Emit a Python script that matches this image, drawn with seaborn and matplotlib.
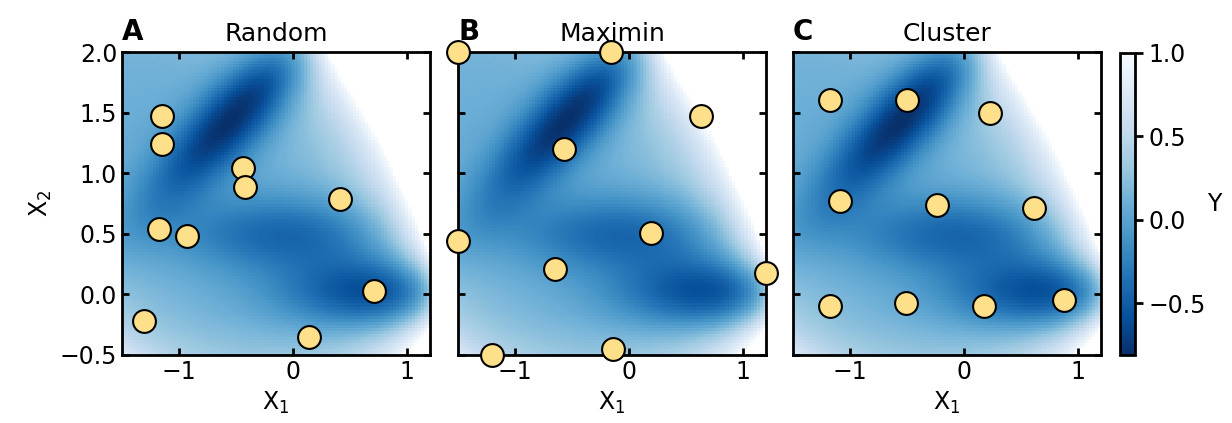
import numpy as np
import pandas as pd
import seaborn as sns
import matplotlib
matplotlib.use('Agg')
import matplotlib.pyplot as plt

# Mueller-Brown surface coefficients (background field)
mb_A = [-200, -100, -170, 15]
mb_a = [-1, -1, -6.5, 0.7]
mb_b = [0, 0, 11, 0.6]
mb_c = [-10, -10, -6.5, 0.7]
mb_x0 = [1, 0, -0.5, -1]
mb_y0 = [0, 0.5, 1.5, 1]
y_scale = 181.0

random_x1 = [-1.15, -1.15, -0.44, -0.42, 0.41, -1.18, -0.93, 0.71, -1.31, 0.14]
random_x2 = [1.47, 1.24, 1.04, 0.89, 0.79, 0.54, 0.48, 0.03, -0.22, -0.35]
maximin_x1 = [-1.5, -0.16, 0.63, -0.57, 0.19, -1.5, -0.65, 1.2, -0.14, -1.2]
maximin_x2 = [2.0, 2.0, 1.47, 1.2, 0.51, 0.44, 0.21, 0.18, -0.45, -0.5]
cluster_x1 = [-1.18, -0.5, 0.23, -1.09, -0.24, 0.61, -1.18, -0.51, 0.17, 0.88]
cluster_x2 = [1.6, 1.6, 1.5, 0.77, 0.74, 0.71, -0.1, -0.07, -0.1, -0.05]

titles = ['Random', 'Maximin', 'Cluster']
letters = ['A', 'B', 'C']

sns.set_style('ticks')
plt.rcParams['font.family'] = ['DejaVu Sans']
for key in ['text.color', 'axes.labelcolor', 'xtick.color', 'ytick.color', 'axes.edgecolor']:
    plt.rcParams[key] = 'black'

# surface on a grid
gx = np.linspace(-1.5, 1.2, 100)
gy = np.linspace(-0.5, 2.0, 100)
X, Yg = np.meshgrid(gx, gy)
V = np.zeros_like(X)
for k in range(4):
    dx = X - mb_x0[k]
    dy = Yg - mb_y0[k]
    V += mb_A[k] * np.exp(mb_a[k] * dx**2 + mb_b[k] * dx * dy + mb_c[k] * dy**2)
Z = V / y_scale
Z = np.where(Z > 1.0, np.nan, Z)
vmin = np.nanmin(Z)

designs = [
    pd.DataFrame({'x1': random_x1, 'x2': random_x2}),
    pd.DataFrame({'x1': maximin_x1, 'x2': maximin_x2}),
    pd.DataFrame({'x1': cluster_x1, 'x2': cluster_x2}),
]

fig = plt.figure(figsize=(12.32, 4.23), dpi=100)
lefts = [122, 458, 793]
for i, df in enumerate(designs):
    ax = fig.add_axes([lefts[i] / 1232, 0.161, 308 / 1232, 0.716])
    im = ax.imshow(Z, extent=[-1.5, 1.2, -0.5, 2.0], origin='lower', aspect='auto',
                   cmap='Blues_r', vmin=vmin, vmax=1.0, interpolation='nearest')
    sns.scatterplot(data=df, x='x1', y='x2', ax=ax, s=270, color='#ffe08a',
                    edgecolor='black', linewidth=1.5, zorder=10, clip_on=False, legend=False)
    ax.set_xlim(-1.5, 1.2)
    ax.set_ylim(-0.5, 2.0)
    ax.set_xticks([-1, 0, 1])
    ax.set_yticks([-0.5, 0.0, 0.5, 1.0, 1.5, 2.0])
    ax.tick_params(direction='in', top=True, right=True, length=5, width=2, labelsize=17)
    for sp in ax.spines.values():
        sp.set_linewidth(2)
    ax.set_xlabel('X$_1$', fontsize=17)
    if i == 0:
        ax.set_ylabel('X$_2$', fontsize=17)
    else:
        ax.set_ylabel('')
        ax.set_yticklabels([])
    ax.set_title(titles[i], fontsize=18, pad=8)
    ax.text(0.0, 1.04, letters[i], transform=ax.transAxes, fontsize=20,
            fontweight='bold', ha='left', va='baseline')

cax = fig.add_axes([1120 / 1232, 0.161, 15 / 1232, 0.714])
cb = fig.colorbar(im, cax=cax)
cb.set_ticks([-0.5, 0.0, 0.5, 1.0])
cb.ax.tick_params(labelsize=17, length=6, width=2)
cb.outline.set_linewidth(2)
cb.set_label('Y', rotation=0, fontsize=17, labelpad=6, va='center')

fig.savefig('out.png', dpi=100)
